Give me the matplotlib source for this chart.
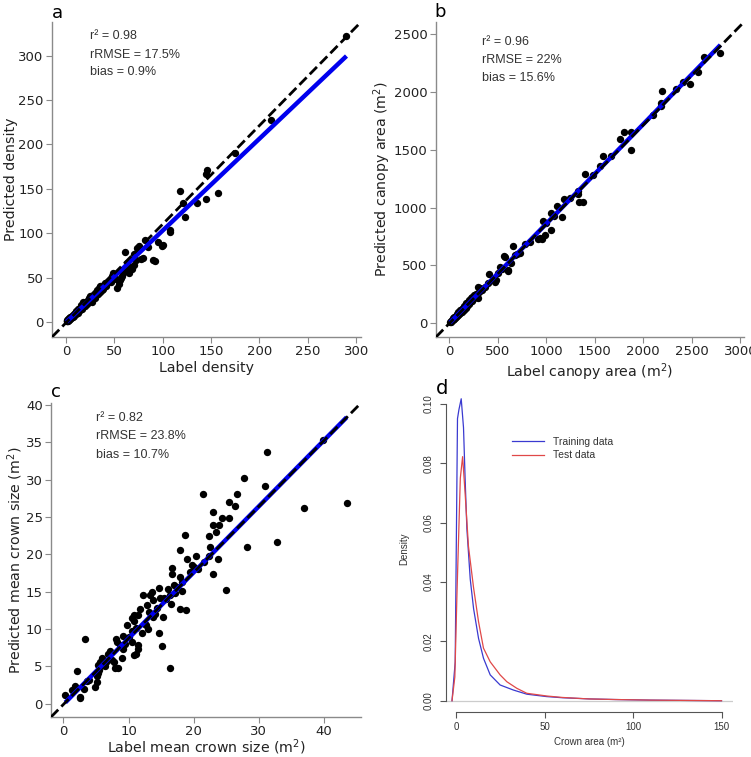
import matplotlib
matplotlib.use('Agg')
import matplotlib.pyplot as plt

# ---- panel a: density ----
dens_label = [0.5, 1, 1.5, 2, 2.5, 3, 3, 4, 4, 5, 5, 6, 6, 7, 7, 8, 8, 9, 10, 10,
              11, 12, 12, 13, 14, 15, 15, 16, 17, 18, 18, 20, 20, 21, 22, 23, 24, 25, 25, 26,
              27, 28, 29, 30, 30, 31, 32, 33, 34, 35, 35, 36, 37, 38, 39, 40, 41, 42, 43, 45,
              46, 48, 49, 50, 52, 53, 55, 56, 57, 58, 59, 60, 61, 62, 63, 65, 66, 68, 70, 70,
              72, 73, 75, 78, 80, 82, 85, 90, 92, 95, 99, 100, 108, 108, 118, 121, 123, 135, 145, 145,
              146, 157, 175, 212, 290]
dens_pred = [0.5, 2, 0.8, 3, 1.5, 4, 2, 5, 3, 6, 4, 7, 5, 8, 6, 9, 7, 10, 12, 9,
             11, 14, 10, 15, 13, 16, 19, 17, 15, 20, 22, 21, 18, 23, 20, 25, 27, 24, 29, 26,
             23, 30, 28, 33, 27, 30, 36, 32, 38, 34, 40, 41, 36, 37, 42, 44, 40, 44, 46, 48,
             45, 52, 55, 50, 48, 38, 43, 47, 49, 52, 55, 58, 79, 60, 66, 55, 62, 60, 64, 76,
             70, 83, 86, 71, 72, 92, 84, 70, 69, 90, 85, 87, 104, 101, 148, 134, 118, 134, 138, 167,
             171, 145, 190, 228, 322]
dens_fit = [1.035, -0.5]   # slope, intercept

# ---- panel b: canopy area ----
area_label = [10, 20, 25, 30, 40, 45, 50, 55, 60, 70, 75, 80, 85, 90, 95, 100, 105, 110, 115, 120,
              130, 135, 140, 150, 155, 160, 170, 175, 180, 190, 200, 205, 210, 220, 230, 235, 240, 250, 260, 265,
              280, 290, 300, 300, 310, 320, 340, 370, 400, 415, 450, 473, 484, 500, 525, 550, 569, 576, 603, 610,
              640, 662, 679, 700, 730, 780, 830, 919, 940, 953, 964, 988, 1000, 1049, 1049, 1080, 1108, 1163, 1180, 1250,
              1324, 1324, 1341, 1382, 1399, 1480, 1557, 1581, 1667, 1759, 1800, 1879, 1879, 2102, 2181, 2181, 2195, 2342, 2411, 2479,
              2565, 2627, 2795]
area_pred = [5, 18, 10, 30, 25, 40, 35, 55, 45, 60, 50, 80, 65, 70, 95, 75, 90, 110, 85, 100,
             120, 95, 130, 115, 145, 135, 160, 130, 175, 150, 185, 165, 200, 180, 215, 190, 225, 205, 240, 225,
             250, 228, 315, 213, 270, 300, 290, 314, 345, 426, 380, 357, 369, 430, 487, 470, 582, 574, 461, 450,
             520, 663, 587, 600, 608, 680, 700, 724, 735, 724, 879, 759, 870, 951, 803, 930, 1012, 921, 1072, 1080,
             1139, 1115, 1052, 1049, 1289, 1280, 1361, 1447, 1447, 1589, 1652, 1650, 1497, 1799, 1906, 1877, 2010, 2030, 2088, 2073,
             2174, 2304, 2338]
area_fit = [0.863, -5.0]

# ---- panel c: mean crown size ----
crown_label = [43.5, 39.8, 36.9, 32.8, 31.3, 30.9, 27.7, 28.2, 26.7, 26.4, 25.5, 25.5, 24.4, 25.0, 23.9, 23.5, 23.0, 23.0, 22.4, 21.5,
               22.5, 22.4, 23.8, 22.9, 21.6, 20.7, 20.4, 19.7, 19.0, 18.6, 17.9, 16.7, 16.7, 17.9, 18.2, 17.0, 16.0, 17.2, 16.3, 18.2,
               16.5, 15.5, 17.9, 18.8, 14.7, 14.9, 13.6, 13.7, 12.8, 13.1, 13.8, 12.5, 15.3, 14.7, 15.2, 16.4, 13.0, 11.8, 11.5, 10.8,
               10.8, 12.0, 11.2, 10.5, 10.5, 11.4, 11.2, 10.8, 11.4, 10.0, 9.5, 10.5, 9.2, 8.7, 8.2, 9.2, 8.1, 9.0, 8.4, 7.9,
               7.7, 6.9, 6.6, 6.1, 5.7, 5.9, 5.3, 5.5, 5.3, 5.1, 5.1, 4.9, 3.3, 3.1, 2.1, 1.8, 2.6, 2.5, 0.3, 1.3,
               12.2, 13.3, 14.0, 9.8, 7.2, 6.4, 4.0, 3.6, 12.7, 14.3, 15.8, 19.5, 20.1, 17.5, 7.5]
crown_pred = [26.9, 35.3, 26.2, 21.7, 33.7, 29.1, 30.2, 20.9, 28.1, 26.5, 27.0, 24.9, 24.9, 15.2, 23.9, 23.0, 25.7, 23.9, 22.5, 28.1,
              21.0, 19.7, 19.3, 17.3, 18.9, 18.0, 19.7, 18.6, 19.4, 22.6, 20.6, 18.1, 17.4, 17.0, 16.3, 15.9, 15.4, 14.8, 14.6, 15.1,
              13.3, 14.2, 12.6, 12.5, 15.5, 14.2, 15.0, 13.9, 13.2, 12.3, 11.6, 10.7, 11.6, 9.4, 7.7, 4.7, 10.0, 12.7, 11.9, 11.9,
              11.0, 9.5, 10.1, 11.4, 9.7, 7.8, 6.6, 6.5, 7.3, 8.9, 8.0, 8.2, 7.3, 7.8, 8.2, 9.1, 8.6, 6.1, 4.8, 4.8,
              5.5, 6.7, 5.6, 5.2, 5.5, 6.1, 5.2, 4.5, 4.1, 3.7, 2.9, 2.2, 8.7, 2.0, 4.3, 2.4, 0.9, 0.8, 1.1, 1.8,
              14.5, 14.6, 12.0, 10.5, 7.0, 5.0, 3.2, 3.0, 10.5, 12.8, 14.0, 17.6, 18.3, 15.6, 5.8]
crown_fit = [0.884, -0.12]

# ---- panel d: crown area density ----
train_x = [-2.4, -0.6, 0.7, 1.5, 2.8, 4.1, 5.0, 6.0, 7.9, 9.8, 12.6, 15.4, 19.2, 24.8, 32.3, 39.9,
           51, 60, 75.6, 90, 110, 130, 150]
train_y = [0.0, 0.013, 0.095, 0.098, 0.1017, 0.092, 0.075, 0.058, 0.041, 0.031, 0.021, 0.0143, 0.0087,
           0.0053, 0.0036, 0.0022, 0.0014, 0.001, 0.0006, 0.0004, 0.0002, 0.0001, 0.0]
test_x = [-2.4, -0.8, 0.4, 2.3, 3.6, 5.1, 6.9, 9.8, 12.6, 15.4, 19.2, 24.8, 28.6, 34.2, 39.9, 47.4,
          51, 60, 75, 90, 110, 130, 150]
test_y = [0.0, 0.008, 0.036, 0.075, 0.0822, 0.069, 0.052, 0.038, 0.0266, 0.0177, 0.0131, 0.0087,
          0.0064, 0.0042, 0.0025, 0.0019, 0.0016, 0.0011, 0.0006, 0.0004, 0.0002, 0.0001, 0.0]

W, H = 751, 757
fig = plt.figure(figsize=(W / 100, H / 100), dpi=100)


def px_axes(l, t, r, b):
    return fig.add_axes([l / W, 1 - b / H, (r - l) / W, (b - t) / H])


def scatter_panel(ax, x, y, fit, xlim, ylim, xticks, yticks, xlabel, ylabel, stats, tx, ty):
    ax.scatter(x, y, s=28, color='black', zorder=3, linewidths=0)
    xs = [min(x), max(x)]
    ax.plot(xs, [fit[0] * v + fit[1] for v in xs], color='#0000ee', lw=3.2, zorder=4,
            solid_capstyle='butt')
    ax.plot([0, 1], [0, 1], transform=ax.transAxes, color='black', ls='--', lw=2, zorder=5)
    ax.set_xlim(xlim)
    ax.set_ylim(ylim)
    ax.set_xticks(xticks)
    ax.set_yticks(yticks)
    for s in ['top', 'right']:
        ax.spines[s].set_visible(False)
    for s in ['left', 'bottom']:
        ax.spines[s].set_color('#8a8a8a')
        ax.spines[s].set_linewidth(1)
    ax.tick_params(direction='out', length=4, pad=2, color='#8a8a8a', labelsize=9.5,
                   labelcolor='#222222')
    ax.set_xlabel(xlabel, fontsize=10.2, color='#222222', labelpad=2)
    ax.set_ylabel(ylabel, fontsize=10.2, color='#222222', labelpad=0.5)
    for i, s in enumerate(stats):
        ax.text(tx, ty[i], s, transform=ax.transAxes, fontsize=9, family='Liberation Sans',
                color='#333333', va='center', ha='left')


ax_a = px_axes(52, 22, 361, 337)
scatter_panel(ax_a, dens_label, dens_pred, dens_fit, (-14.5, 305), (-17, 338),
              [0, 50, 100, 150, 200, 250, 300], [0, 50, 100, 150, 200, 250, 300],
              'Label density', 'Predicted density',
              ['r² = 0.98', 'rRMSE = 17.5%', 'bias = 0.9%'], 0.123, [0.955, 0.896, 0.840])

ax_b = px_axes(436, 22, 744, 337)
scatter_panel(ax_b, area_label, area_pred, area_fit, (-134, 3038), (-121, 2606),
              [0, 500, 1000, 1500, 2000, 2500, 3000], [0, 500, 1000, 1500, 2000, 2500],
              r'Label canopy area (m$^2$)', r'Predicted canopy area (m$^2$)',
              ['r² = 0.96', 'rRMSE = 22%', 'bias = 15.6%'], 0.149, [0.937, 0.878, 0.822])

ax_c = px_axes(51, 403, 361, 717)
scatter_panel(ax_c, crown_label, crown_pred, crown_fit, (-1.9, 45.7), (-1.8, 40.25),
              [0, 10, 20, 30, 40], [0, 5, 10, 15, 20, 25, 30, 35, 40],
              r'Label mean crown size (m$^2$)', r'Predicted mean crown size (m$^2$)',
              ['r² = 0.82', 'rRMSE = 23.8%', 'bias = 10.7%'], 0.144, [0.953, 0.895, 0.834])
ax_c.xaxis.labelpad = -1

# R-style density panel
ax_d = px_axes(446, 386, 733, 712)
ax_d.axhline(0, color='#cccccc', lw=0.9, zorder=1)
ax_d.plot(train_x, train_y, color='#3a3ad0', lw=0.9, label='Training data')
ax_d.plot(test_x, test_y, color='#e04848', lw=0.9, label='Test data')
ax_d.set_xlim(-5.8, 156.5)
ax_d.set_ylim(-0.0038, 0.106)
ax_d.set_xticks([0, 50, 100, 150])
ax_d.set_yticks([0.0, 0.02, 0.04, 0.06, 0.08, 0.10])
ax_d.set_yticklabels(['0.00', '0.02', '0.04', '0.06', '0.08', '0.10'], rotation=90, va='center')
for s in ['top', 'right']:
    ax_d.spines[s].set_visible(False)
ax_d.spines['left'].set_bounds(0, 0.10)
ax_d.spines['bottom'].set_bounds(0, 150)
for s in ['left', 'bottom']:
    ax_d.spines[s].set_color('#555555')
    ax_d.spines[s].set_linewidth(0.8)
ax_d.tick_params(direction='out', length=4, color='#555555', labelsize=7, labelcolor='#333333')
ax_d.tick_params(axis='y', pad=5)
for lab in ax_d.get_xticklabels() + ax_d.get_yticklabels():
    lab.set_family('Liberation Sans')
ax_d.set_xlabel('Crown area (m²)', fontsize=7, family='Liberation Sans', color='#333333', labelpad=3)
ax_d.set_ylabel('Density', fontsize=7, family='Liberation Sans', color='#333333', labelpad=10)
leg = ax_d.legend(loc='upper left', bbox_to_anchor=(0.231, 0.845), frameon=False,
                  prop={'family': 'Liberation Sans', 'size': 7.5}, handlelength=3.0,
                  handletextpad=0.9, labelspacing=0.35, borderpad=0, borderaxespad=0)
for t in leg.get_texts():
    t.set_color('#333333')

# panel letters
fig.text(57 / W, 1 - 13 / H, 'a', fontsize=13, ha='center', va='center')
fig.text(440 / W, 1 - 12 / H, 'b', fontsize=13, ha='center', va='center')
fig.text(56 / W, 1 - 392 / H, 'c', fontsize=13, ha='center', va='center')
fig.text(442 / W, 1 - 389 / H, 'd', fontsize=14, ha='center', va='center')

fig.savefig('out.png', dpi=100)
